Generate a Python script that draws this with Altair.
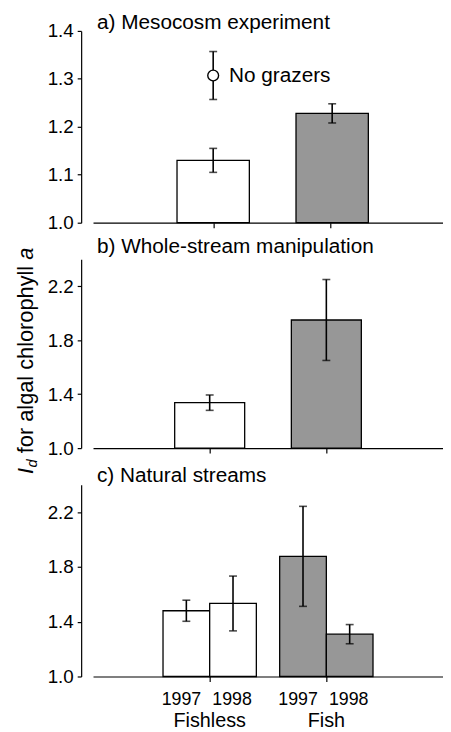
import altair as alt
import pandas as pd

# ---------------- data ----------------
groups = ["Fishless", "Fish"]
group_pos = [1, 2]
meso_pos = [1.03, 2.05]

meso_mean = [1.13, 1.228]
meso_se = [0.025, 0.02]
nograzer_mean = [1.307]
nograzer_se = [0.05]

whole_mean = [1.337, 1.95]
whole_se = [0.057, 0.30]

nat_group = ["Fishless", "Fishless", "Fish", "Fish"]
nat_year = ["1997", "1998", "1997", "1998"]
nat_mean = [1.48, 1.533, 1.877, 1.309]
nat_se = [0.077, 0.20, 0.365, 0.07]

FONT = "Liberation Sans"
GREY = "#979797"
W = 354


def two_bar_df(means, ses, pos, half):
    return pd.DataFrame({
        "group": groups,
        "xc": pos,
        "x0": [p - half for p in pos],
        "x1": [p + half for p in pos],
        "mean": means,
        "lo": [m - s for m, s in zip(means, ses)],
        "hi": [m + s for m, s in zip(means, ses)],
        "base": [1.0] * len(means),
    })


def nat_df():
    gp = {"Fishless": 1, "Fish": 2}
    xc = [gp[g] + (-0.2 if y == "1997" else 0.2) for g, y in zip(nat_group, nat_year)]
    return pd.DataFrame({
        "group": nat_group,
        "year": nat_year,
        "xc": xc,
        "x0": [c - 0.2 for c in xc],
        "x1": [c + 0.2 for c in xc],
        "mean": nat_mean,
        "lo": [m - s for m, s in zip(nat_mean, nat_se)],
        "hi": [m + s for m, s in zip(nat_mean, nat_se)],
        "base": [1.0] * 4,
    })


def panel(df, ydomain, yticks, xticks, title, height, title_dy=-3):
    xs = alt.Scale(domain=[0, 3], nice=False, zero=False)
    ys = alt.Scale(domain=ydomain, nice=False, zero=False)
    xaxis = alt.Axis(values=xticks, labels=False, title=None, grid=False,
                     domainColor="black", tickColor="black", tickSize=5,
                     domainWidth=1.2, tickWidth=1.2)
    yaxis = alt.Axis(values=yticks, format=".1f", title=None, grid=False,
                     offset=12, tickSize=4, labelPadding=4,
                     labelFont=FONT, labelFontSize=19, labelColor="black",
                     domainColor="black", tickColor="black",
                     domainWidth=1.2, tickWidth=1.2)
    base = alt.Chart(df)
    bars = base.mark_bar(stroke="black", strokeWidth=1.3).encode(
        x=alt.X("x0:Q", scale=xs, axis=xaxis),
        x2="x1:Q",
        y=alt.Y("mean:Q", scale=ys, axis=yaxis),
        y2="base:Q",
        color=alt.Color("group:N", scale=alt.Scale(domain=groups, range=["white", GREY]),
                        legend=None),
    )
    rule = base.mark_rule(color="black", strokeWidth=1.6).encode(
        x="xc:Q", y="lo:Q", y2="hi:Q")
    cap_lo = base.mark_tick(color="black", orient="horizontal", size=8, thickness=1.6).encode(
        x="xc:Q", y="lo:Q")
    cap_hi = base.mark_tick(color="black", orient="horizontal", size=8, thickness=1.6).encode(
        x="xc:Q", y="hi:Q")
    ttl = alt.Chart(pd.DataFrame({"t": [title]})).mark_text(
        font=FONT, fontSize=21, align="left", baseline="alphabetic", color="black"
    ).encode(text="t:N", x=alt.value(4), y=alt.value(title_dy))
    return [bars, rule, cap_lo, cap_hi, ttl], height


# ---------- panel a ----------
dfa = two_bar_df(meso_mean, meso_se, meso_pos, 0.31)
la, ha = panel(dfa, [1.0, 1.4], [1.0, 1.1, 1.2, 1.3, 1.4], [1.03, 2.03],
               "a) Mesocosm experiment", 194, -2)
ng = pd.DataFrame({
    "xc": [1.03],
    "mean": nograzer_mean,
    "lo": [m - s for m, s in zip(nograzer_mean, nograzer_se)],
    "hi": [m + s for m, s in zip(nograzer_mean, nograzer_se)],
    "label": ["No grazers"],
})
ngb = alt.Chart(ng)
ng_rule = ngb.mark_rule(color="black", strokeWidth=1.6).encode(x="xc:Q", y="lo:Q", y2="hi:Q")
ng_clo = ngb.mark_tick(color="black", orient="horizontal", size=8, thickness=1.6).encode(x="xc:Q", y="lo:Q")
ng_chi = ngb.mark_tick(color="black", orient="horizontal", size=8, thickness=1.6).encode(x="xc:Q", y="hi:Q")
ng_pt = ngb.mark_point(shape="circle", size=120, filled=True, fill="white", stroke="black",
                       strokeWidth=1.4, opacity=1).encode(x="xc:Q", y="mean:Q")
ng_txt = ngb.mark_text(font=FONT, fontSize=21, align="left", baseline="middle", dx=16, dy=1,
                       color="black").encode(x="xc:Q", y="mean:Q", text="label:N")
chart_a = alt.layer(*la, ng_rule, ng_clo, ng_chi, ng_pt, ng_txt).properties(width=W, height=ha)

# ---------- panel b ----------
dfb = two_bar_df(whole_mean, whole_se, group_pos, 0.3)
lb, hb = panel(dfb, [1.0, 2.4], [1.0, 1.4, 1.8, 2.2], [1, 2],
               "b) Whole-stream manipulation", 191, -6)

# y-axis title pieces (bottom-to-top), rotated
TF = 22
SUB = 15
SP = 0.278 * TF
w_I = 0.278 * TF
w_d = 0.556 * SUB
mid_text = "for algal chlorophyll"
w_mid = (9.17 - 2 * 0.278) * TF
w_a = 0.556 * TF
total = w_I + w_d + SP + w_mid + SP + w_a
center_rel = 361 - 258
y_I = center_rel + total / 2
y_d = y_I - w_I - 0.5
y_mid = y_d - w_d - SP
y_a = y_mid - w_mid - SP
xb = -60.5
pieces = [
    ("I", y_I, xb, TF, "italic"),
    ("d", y_d, xb + 4, SUB, "italic"),
    (mid_text, y_mid, xb, TF, "normal"),
    ("a", y_a, xb, TF, "italic"),
]
title_layers = []
for txt, yy, xx, fs, style in pieces:
    title_layers.append(
        alt.Chart(pd.DataFrame({"t": [txt]})).mark_text(
            font=FONT, fontSize=fs, fontStyle=style, angle=270, align="left",
            baseline="alphabetic", color="black"
        ).encode(text="t:N", x=alt.value(xx), y=alt.value(yy))
    )
chart_b = alt.layer(*lb, *title_layers).properties(width=W, height=hb)

# ---------- panel c ----------
dfc = nat_df()
lc, hc = panel(dfc, [1.0, 2.4], [1.0, 1.4, 1.8, 2.2], [1, 2], "c) Natural streams", 194, -3)
yr97 = alt.Chart(dfc).transform_filter(alt.datum.year == "1997").mark_text(
    font=FONT, fontSize=18, baseline="alphabetic", color="black", dx=-5).encode(
    x="xc:Q", y=alt.value(194 + 29), text="year:N")
yr98 = alt.Chart(dfc).transform_filter(alt.datum.year == "1998").mark_text(
    font=FONT, fontSize=18, baseline="alphabetic", color="black", dx=-1).encode(
    x="xc:Q", y=alt.value(194 + 29), text="year:N")
grp = pd.DataFrame({"group": groups, "xc": group_pos})
grp_txt = alt.Chart(grp).mark_text(font=FONT, fontSize=20, baseline="alphabetic",
                                   color="black").encode(
    x="xc:Q", y=alt.value(194 + 51), text="group:N")
chart_c = alt.layer(*lc, yr97, yr98, grp_txt).properties(width=W, height=hc)

chart = alt.vconcat(chart_a, chart_b, chart_c, spacing=37, bounds="flush").properties(
    padding={"left": 7, "top": 0, "right": 0, "bottom": 0}
).configure_view(stroke=None).resolve_scale(y="independent")

chart.save("out.html", embed_options={"renderer": "svg", "actions": False})
